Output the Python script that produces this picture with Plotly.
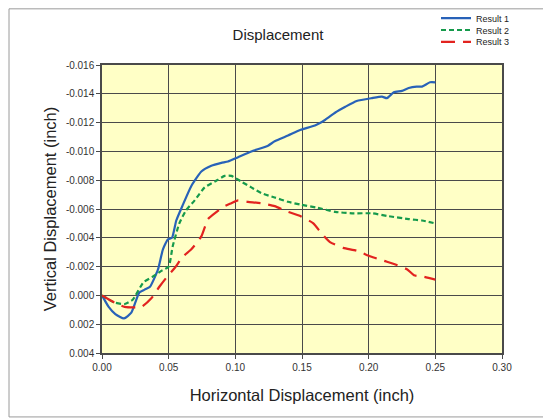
import plotly.graph_objects as go

# ---- data ----
r1_x = [0, 0.005, 0.010, 0.0165, 0.022, 0.028, 0.032, 0.036, 0.042, 0.0457, 0.0495, 0.0525,
        0.0557, 0.0607, 0.067, 0.0745, 0.082, 0.0895, 0.0945, 0.102, 0.112, 0.1245, 0.1295,
        0.1395, 0.149, 0.1597, 0.1675, 0.175, 0.1825, 0.191, 0.2025, 0.21, 0.2137, 0.2188,
        0.225, 0.230, 0.236, 0.240, 0.246, 0.250]
r1_y = [0, 0.0008, 0.0013, 0.0016, 0.0012, -0.0002, -0.0004, -0.0006, -0.0018, -0.0032, -0.0039,
        -0.0040, -0.0052, -0.0063, -0.0076, -0.0086, -0.0090, -0.0092, -0.0093, -0.0096, -0.0100,
        -0.0104, -0.0107, -0.0111, -0.0115, -0.0118, -0.0122, -0.0127, -0.0131, -0.0135, -0.0137,
        -0.0138, -0.0137, -0.0141, -0.0142, -0.0144, -0.0145, -0.0145, -0.0148, -0.0148]

r2_x = [0, 0.0095, 0.017, 0.023, 0.031, 0.038, 0.0445, 0.050, 0.053, 0.058, 0.063, 0.0695,
        0.077, 0.0845, 0.092, 0.097, 0.1045, 0.112, 0.1195, 0.1295, 0.1395, 0.149, 0.161,
        0.175, 0.1875, 0.2025, 0.215, 0.230, 0.240, 0.250]
r2_y = [0, 0.0005, 0.0006, 0.0003, -0.0009, -0.0013, -0.0017, -0.0020, -0.0034, -0.0050,
        -0.0059, -0.0066, -0.0075, -0.0079, -0.0083, -0.0083, -0.0079, -0.0075, -0.0071,
        -0.0068, -0.0065, -0.0063, -0.0061, -0.0058, -0.0057, -0.0057, -0.0055, -0.0053,
        -0.0052, -0.0050]

r3_x = [0, 0.0095, 0.017, 0.0295, 0.037, 0.043, 0.048, 0.0545, 0.0607, 0.067, 0.0745, 0.0795,
        0.086, 0.092, 0.097, 0.102, 0.1095, 0.1195, 0.1295, 0.1395, 0.149, 0.1585, 0.1647,
        0.171, 0.181, 0.191, 0.2015, 0.2115, 0.2215, 0.229, 0.234, 0.241, 0.250]
r3_y = [0, 0.0005, 0.0008, 0.0008, 0.0002, -0.0006, -0.0012, -0.0019, -0.0027, -0.0032,
        -0.0041, -0.0053, -0.0058, -0.0062, -0.0064, -0.0066, -0.0065, -0.0064, -0.0062,
        -0.0058, -0.0055, -0.0050, -0.0043, -0.0037, -0.0033, -0.0031, -0.0027, -0.0024,
        -0.0021, -0.0018, -0.0014, -0.0013, -0.0011]

x_ticks = [0.00, 0.05, 0.10, 0.15, 0.20, 0.25, 0.30]
x_labels = ["0.00", "0.05", "0.10", "0.15", "0.20", "0.25", "0.30"]
y_ticks = [-0.016, -0.014, -0.012, -0.010, -0.008, -0.006, -0.004, -0.002, 0.000, 0.002, 0.004]
y_labels = ["-0.016", "-0.014", "-0.012", "-0.010", "-0.008", "-0.006", "-0.004", "-0.002",
            "0.000", "0.002", "0.004"]

FONT = "Liberation Sans, Arial, sans-serif"

fig = go.Figure()
fig.add_trace(go.Scatter(x=r1_x, y=r1_y, mode="lines", name="Result 1", legend="legend",
                         line=dict(color="#2862B8", width=2.2, shape="spline", smoothing=0.5)))
fig.add_trace(go.Scatter(x=r2_x, y=r2_y, mode="lines", name="Result 2", legend="legend2",
                         line=dict(color="#169A4C", width=2.2, dash="5px,3px", shape="spline", smoothing=0.5)))
fig.add_trace(go.Scatter(x=r3_x, y=r3_y, mode="lines", name="Result 3", legend="legend3",
                         line=dict(color="#E2231F", width=2.2, dash="14px,8px", shape="spline", smoothing=0.5)))

axis_common = dict(showgrid=True, gridcolor="#4a4a4a", gridwidth=0.8,
                   showline=True, linecolor="#4a4a4a", linewidth=1.5, mirror=True,
                   ticks="outside", ticklen=4, tickcolor="#4a4a4a", automargin=False,
                   tickfont=dict(family=FONT, size=10, color="#333333"), zeroline=False)

fig.update_xaxes(range=[0, 0.30], tickvals=x_ticks, ticktext=x_labels,
                 title=dict(text="Horizontal Displacement (inch)",
                            font=dict(family=FONT, size=16.5, color="#222222"), standoff=18),
                 **axis_common)
fig.update_yaxes(range=[0.004, -0.016], tickvals=y_ticks, ticktext=y_labels,
                 title=dict(text="Vertical Displacement (inch)",
                            font=dict(family=FONT, size=16.5, color="#222222"), standoff=5),
                 **axis_common)

fig.add_shape(type="rect", xref="paper", yref="paper", x0=-0.2325, x1=1.1175, y0=-0.222, y1=1.195,
              line=dict(color="#9a9a9a", width=1), fillcolor="rgba(0,0,0,0)", layer="below")

leg_common = dict(x=0.835, xanchor="left", yanchor="middle",
                  font=dict(family=FONT, size=9, color="#222222"),
                  bgcolor="rgba(0,0,0,0)", borderwidth=0)

fig.update_layout(
    width=543, height=411,
    margin=dict(l=94, r=49, t=57, b=66, autoexpand=False),
    paper_bgcolor="white", plot_bgcolor="#FFFFC6",
    title=dict(text="Displacement", x=270 / 543, xanchor="center", y=1 - 27 / 411, yanchor="middle",
               font=dict(family=FONT, size=15, color="#222222")),
    legend=dict(y=1.163, **leg_common),
    legend2=dict(y=1.1215, **leg_common),
    legend3=dict(y=1.080, **leg_common),
    showlegend=True,
)

fig.write_html("out.html")
